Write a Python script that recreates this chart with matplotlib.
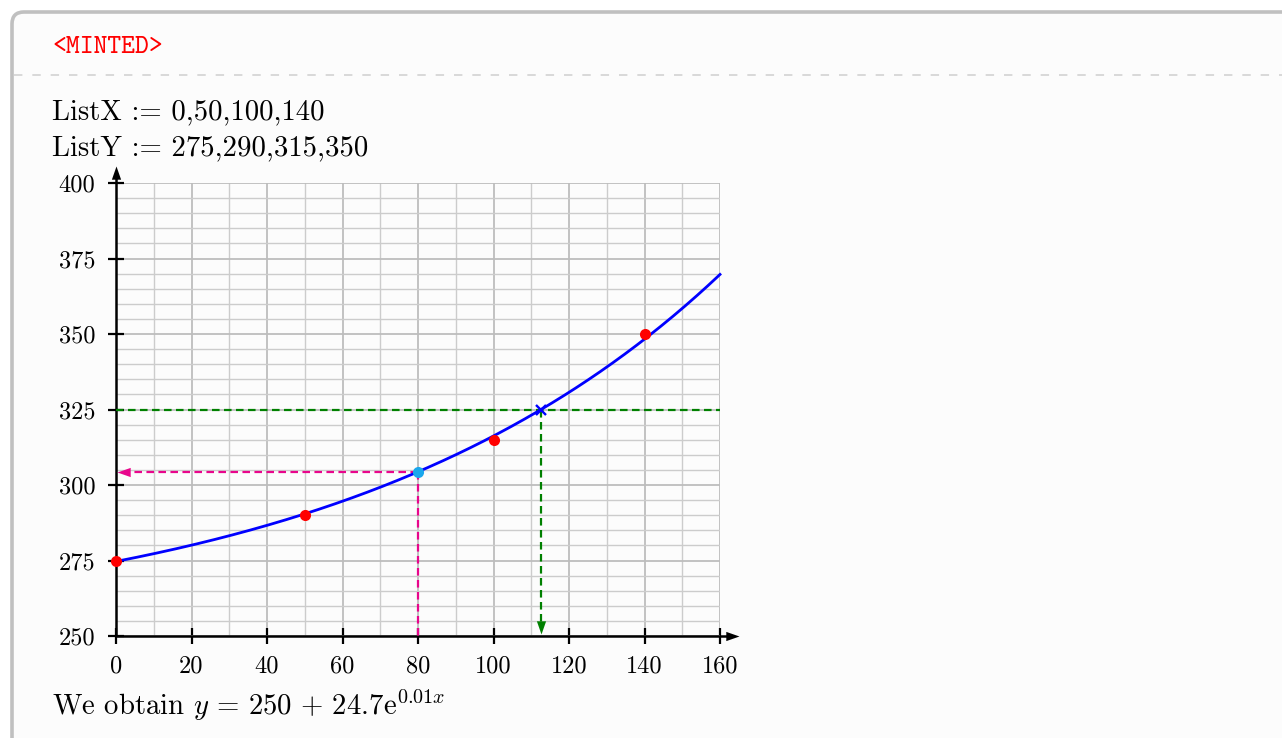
import numpy as np
import matplotlib
matplotlib.use("Agg")
import matplotlib.pyplot as plt
from matplotlib.patches import FancyBboxPatch

plt.rcParams['mathtext.fontset'] = 'cm'
plt.rcParams['axes.unicode_minus'] = False

# ---- data ----
list_x = [0, 50, 100, 140]
list_y = [275, 290, 315, 350]
offset_a = 250
x_query = 80          # cyan point (read y from model)
y_query = 325         # green level (read x from model)
x_ticks = [0, 20, 40, 60, 80, 100, 120, 140, 160]
y_ticks = [250, 275, 300, 325, 350, 375, 400]
title_tag = "<MINTED>"
line1 = "ListX := 0,50,100,140"
line2 = "ListY := 275,290,315,350"
result = r"We obtain $y\,=\,250\,+\,24.7\mathrm{e}^{0.01x}$"

# exponential fit y = a + b e^{kx}
k, lnb = np.polyfit(np.array(list_x, float), np.log(np.array(list_y, float) - offset_a), 1)
b = np.exp(lnb)
model = lambda x: offset_a + b * np.exp(k * x)
y_at_query = model(x_query)
x_at_level = np.log((y_query - offset_a) / b) / k

W, H = 1282, 738
fig = plt.figure(figsize=(W / 100, H / 100), dpi=100)
fig.patch.set_facecolor('white')

# ---- background frame ----
bg = fig.add_axes([0, 0, 1, 1], zorder=0)
bg.set_xlim(0, W)
bg.set_ylim(H, 0)
bg.axis('off')
frame = FancyBboxPatch((12, 12), 1500, 900, boxstyle="round,pad=0,rounding_size=12",
                       facecolor='#fcfcfc', edgecolor='#c0c0c0', linewidth=2.6)
bg.add_patch(frame)
bg.plot([14, W], [75, 75], color='#cfcfcf', lw=1.1, linestyle=(0, (5.5, 6.5)))

bg.text(52, 53, title_tag, family='cmtt10', fontsize=19, color='#ff0000', va='baseline')
bg.text(52, 119, line1, family='cmr10', fontsize=20.7, color='black', va='baseline')
bg.text(52, 155, line2, family='cmr10', fontsize=20.7, color='black', va='baseline')
bg.text(52, 715, result, family='cmr10', fontsize=20.7, color='black', va='baseline')

# ---- plot axes ----
ax = fig.add_axes([116 / W, (H - 636) / H, (720 - 116) / W, (636 - 183) / H], zorder=2)
ax.set_facecolor('none')
ax.set_xlim(0, 160)
ax.set_ylim(250, 400)
ax.set_xticks(x_ticks)
ax.set_yticks(y_ticks)
ax.set_xticks(np.arange(0, 161, 10), minor=True)
ax.set_yticks(np.arange(250, 401, 5), minor=True)
ax.set_xticklabels([str(t) for t in x_ticks], family='cmr10', fontsize=17.5)
ax.set_yticklabels([str(t) for t in y_ticks], family='cmr10', fontsize=17.5)
ax.grid(which='major', color='#bdbdbd', lw=1.3)
ax.grid(which='minor', color='#cccccc', lw=1.0)
ax.set_axisbelow(True)
for s in ax.spines.values():
    s.set_visible(False)
ax.tick_params(which='major', direction='inout', length=11.5, width=1.6, color='black', pad=8)
ax.tick_params(axis='y', which='major', pad=9)
ax.tick_params(which='minor', length=0)

# axis lines with arrows
ax.plot([0, 0], [250, 403], color='black', lw=1.8, clip_on=False, zorder=3, solid_capstyle='butt')
ax.plot([0, 163], [250, 250], color='black', lw=1.8, clip_on=False, zorder=3, solid_capstyle='butt')
up_tri = [(0, 0), (0.7, -2), (-0.7, -2)]
right_tri = [(0, 0), (-2, 0.7), (-2, -0.7)]
left_tri = [(0, 0), (2, 0.7), (2, -0.7)]
down_tri = [(0, 0), (0.7, 2), (-0.7, 2)]
ax.plot([0], [405.5], marker=up_tri, markersize=19, color='black', clip_on=False, zorder=3, mew=0)
ax.plot([165], [250], marker=right_tri, markersize=19, color='black', clip_on=False, zorder=3, mew=0)

# model curve
xs = np.linspace(0, 160, 400)
ax.plot(xs, model(xs), color='#0000ff', lw=2.0, zorder=5, clip_on=False)

# pink construction
pink = '#e8068c'
dash = (0, (3.4, 2.0))
ax.plot([x_query, 2], [y_at_query, y_at_query], color=pink, lw=1.6, linestyle=dash, zorder=4)
ax.plot([x_query, x_query], [y_at_query, 250], color=pink, lw=1.6, linestyle=dash, zorder=4)
ax.plot([0.3], [y_at_query], marker=left_tri, markersize=19, color=pink, mew=0, zorder=4, clip_on=False)

# green construction
green = '#008000'
ax.plot([0, 160], [y_query, y_query], color=green, lw=1.6, linestyle=dash, zorder=4)
ax.plot([x_at_level, x_at_level], [y_query, 253], color=green, lw=1.6, linestyle=dash, zorder=4)
ax.plot([x_at_level], [250.5], marker=down_tri, markersize=19, color=green, mew=0, zorder=4, clip_on=False)
ax.plot([x_at_level], [y_query], marker='x', markersize=7, mew=1.7, color='#0000ff', zorder=6)

# points
ax.plot(list_x, list_y, 'o', color='#ff0000', markersize=8, mew=0, zorder=7, clip_on=False)
ax.plot([x_query], [y_at_query], 'o', color='#1aa7ec', markersize=8, mew=0, zorder=7)

fig.savefig('out.png', dpi=100, facecolor='white')
